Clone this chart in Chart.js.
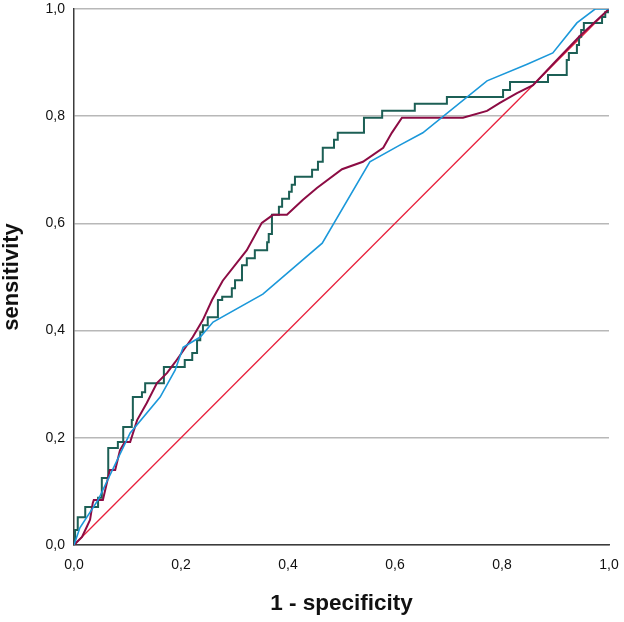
<!DOCTYPE html>
<html>
<head>
<meta charset="utf-8">
<script src="https://cdn.jsdelivr.net/npm/chart.js@4/dist/chart.umd.min.js"></script>
<style>
  html, body { margin: 0; padding: 0; background: #fff; }
  #wrap { width: 624px; height: 622px; }
</style>
</head>
<body>
<div id="wrap"><canvas id="roc"></canvas></div>
<script>
// tick labels
const tickValues = [0, 0.2, 0.4, 0.6, 0.8, 1.0];

// reference diagonal
const diagX = [0, 1];
const diagY = [0, 1];

// blue curve
const blueX = [0, 0.011, 0.045, 0.105, 0.161, 0.189, 0.204, 0.236, 0.260, 0.353, 0.464, 0.553, 0.609, 0.652, 0.772, 0.847, 0.895, 0.940, 0.974, 1.0];
const blueY = [0, 0.032, 0.084, 0.209, 0.276, 0.326, 0.369, 0.388, 0.416, 0.468, 0.563, 0.715, 0.746, 0.769, 0.866, 0.897, 0.918, 0.974, 1.0, 1.0];

// maroon curve
const maroonX = [0, 0.015, 0.024, 0.030, 0.035, 0.037, 0.054, 0.067, 0.077, 0.086, 0.095, 0.105, 0.118, 0.136, 0.155, 0.174, 0.189, 0.222, 0.241, 0.258, 0.278, 0.323, 0.351, 0.372, 0.398, 0.428, 0.454, 0.501, 0.540, 0.578, 0.594, 0.613, 0.727, 0.772, 0.796, 0.828, 0.858, 0.899, 0.946, 1.0];
const maroonY = [0, 0.015, 0.034, 0.047, 0.078, 0.084, 0.084, 0.140, 0.140, 0.177, 0.192, 0.192, 0.233, 0.265, 0.302, 0.321, 0.341, 0.388, 0.420, 0.457, 0.493, 0.550, 0.601, 0.616, 0.616, 0.644, 0.666, 0.701, 0.715, 0.741, 0.769, 0.797, 0.797, 0.810, 0.825, 0.843, 0.858, 0.901, 0.950, 1.0];

// teal step curve (top of each riser)
const tealX = [0, 0.002, 0.007, 0.021, 0.045, 0.052, 0.064, 0.082, 0.092, 0.108, 0.110, 0.127, 0.133, 0.168, 0.207, 0.221, 0.230, 0.236, 0.241, 0.250, 0.269, 0.277, 0.295, 0.301, 0.314, 0.323, 0.338, 0.361, 0.364, 0.370, 0.383, 0.389, 0.402, 0.407, 0.413, 0.445, 0.456, 0.465, 0.486, 0.493, 0.542, 0.576, 0.637, 0.697, 0.802, 0.815, 0.886, 0.921, 0.925, 0.940, 0.944, 0.948, 0.953, 0.987, 0.993, 0.998, 1.0];
const tealY = [0, 0.028, 0.052, 0.071, 0.088, 0.125, 0.181, 0.192, 0.220, 0.233, 0.276, 0.285, 0.302, 0.332, 0.345, 0.358, 0.382, 0.397, 0.410, 0.425, 0.457, 0.463, 0.479, 0.494, 0.522, 0.535, 0.550, 0.565, 0.580, 0.616, 0.631, 0.646, 0.659, 0.672, 0.687, 0.700, 0.715, 0.741, 0.756, 0.769, 0.797, 0.810, 0.823, 0.836, 0.849, 0.864, 0.877, 0.905, 0.918, 0.933, 0.948, 0.961, 0.974, 0.985, 0.994, 1.0, 1.0];

function pts(xs, ys) {
    return xs.map((x, i) => ({x: x, y: ys[i]}));
}

function fmt(v) {
    return v.toFixed(1).replace('.', ',');
}

const font = 'Arial, "Liberation Sans", sans-serif';

let ctx = document.getElementById('roc').getContext('2d');
let chart = new Chart(ctx, {
    type: 'line',
    data: {
        datasets: [
            {
                data: pts(blueX, blueY),
                borderColor: '#1b98da',
                borderWidth: 1.6
            },
            {
                data: pts(maroonX, maroonY),
                borderColor: '#8c0c44',
                borderWidth: 2
            },
            {
                data: pts(tealX, tealY),
                borderColor: '#1c5f55',
                borderWidth: 2,
                stepped: 'before'
            },
            {
                data: pts(diagX, diagY),
                borderColor: '#e8203c',
                borderWidth: 1.3
            }
        ]
    },
    options: {
        responsive: true,
        maintainAspectRatio: false,
        animation: false,
        layout: {padding: {top: 9, right: 15, left: 0, bottom: 0}},
        elements: {point: {radius: 0}, line: {tension: 0}},
        plugins: {legend: {display: false}, tooltip: {enabled: false}},
        scales: {
            x: {
                type: 'linear',
                min: 0,
                max: 1,
                afterBuildTicks: s => { s.ticks = tickValues.map(v => ({value: v})); },
                afterFit: s => {
                    s.height = 77;
                    s.paddingLeft = 0;
                    s.paddingRight = 0;
                },
                grid: {display: false, drawTicks: false},
                border: {color: '#3c3c3c', width: 1.5},
                ticks: {
                    padding: 12,
                    color: '#111',
                    font: {family: font, size: 14},
                    maxRotation: 0,
                    callback: v => fmt(v)
                },
                title: {
                    display: true,
                    text: '1 - specificity',
                    color: '#111',
                    font: {family: font, size: 22.5, weight: 'bold', lineHeight: 1},
                    padding: {top: 0, bottom: 7}
                }
            },
            y: {
                type: 'linear',
                min: 0,
                max: 1,
                afterBuildTicks: s => { s.ticks = tickValues.map(v => ({value: v})); },
                afterFit: s => {
                    s.width = 74;
                    s.paddingTop = 0;
                    s.paddingBottom = 0;
                },
                grid: {color: '#b8b8b8', lineWidth: 1.5, drawTicks: false},
                border: {color: '#3c3c3c', width: 1.5},
                ticks: {
                    padding: 9,
                    color: '#111',
                    font: {family: font, size: 14},
                    callback: v => fmt(v)
                },
                title: {
                    display: true,
                    text: 'sensitivity',
                    color: '#111',
                    font: {family: font, size: 22, weight: 'bold', lineHeight: 1},
                    padding: {top: 1, bottom: 0}
                }
            }
        }
    }
});
</script>
</body>
</html>
